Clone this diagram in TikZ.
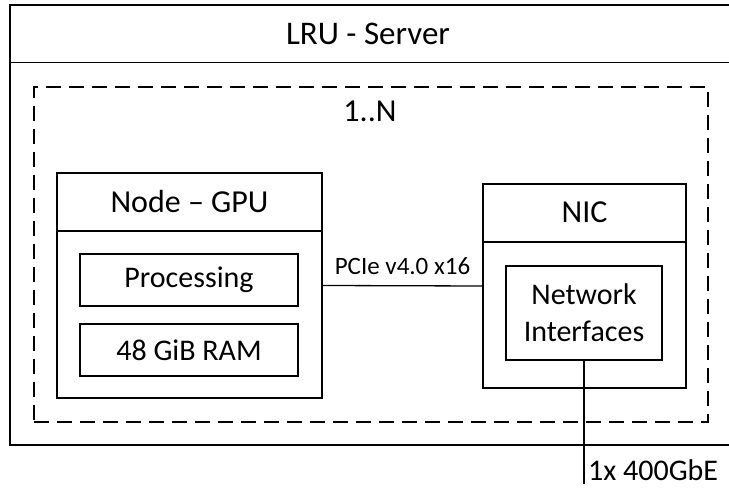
\documentclass[tikz,border=0pt]{standalone}
\usepackage{fontspec}
\setmainfont{Carlito}
\begin{document}
\begin{tikzpicture}[x=1pt,y=-1pt,
  box/.style={draw, line width=1.5pt, inner sep=0pt},
  txt/.style={inner sep=0pt, font=\fontsize{30}{37}\selectfont, align=center},
  big/.style={font=\fontsize{32}{38}\selectfont},
  link/.style={line width=1.3pt}]
\useasboundingbox (0,0) rectangle (729,489);
% outer server
\node[box, line width=1.6pt, minimum width=720pt, minimum height=440pt] (lru) at (370,225) {};
\draw[line width=1.6pt] (10,62.5) -- (730,62.5);
\node[txt, font=\fontsize{33}{40}\selectfont] (lrut) at (368,33.5) {LRU - Server};
% dashed group
\node[draw, line width=1.5pt, dash pattern=on 15pt off 8pt, inner sep=0pt, minimum width=674pt, minimum height=335pt] (grp) at (371,254.5) {};
\node[txt, big] (grpt) at (370,111) {1..N};
% GPU node
\node[box, minimum width=265pt, minimum height=225pt] (gpu) at (189.5,285.5) {};
\draw[line width=1.5pt] (57,231) -- (322,231);
\node[txt, big] (gput) at (189.5,202) {Node -- GPU};
\node[box, minimum width=218pt, minimum height=52pt, txt, draw] (proc) at (189,280) {Processing};
\node[box, minimum width=218pt, minimum height=52pt, txt, draw] (ram) at (189,350) {48 GiB RAM};
% NIC
\node[box, minimum width=203pt, minimum height=204pt] (nic) at (584.5,286) {};
\draw[line width=1.5pt] (483,242) -- (686,242);
\node[txt, big] (nict) at (584.5,212.5) {NIC};
\node[box, minimum width=156pt, minimum height=94pt, txt, draw] (netif) at (584,313) {Network\\Interfaces};
% connectors
\coordinate (ext) at (584,484);
\draw[link] (gpu.east) -- node[above, inner sep=0pt, yshift=10pt, font=\fontsize{25}{30}\selectfont] (pcie) {PCIe v4.0 x16} (nic.west);
\draw[link] (netif.south) -- (ext);
\node[txt, anchor=west] (eth) at (588,470) {1x 400GbE};
\end{tikzpicture}
\end{document}
